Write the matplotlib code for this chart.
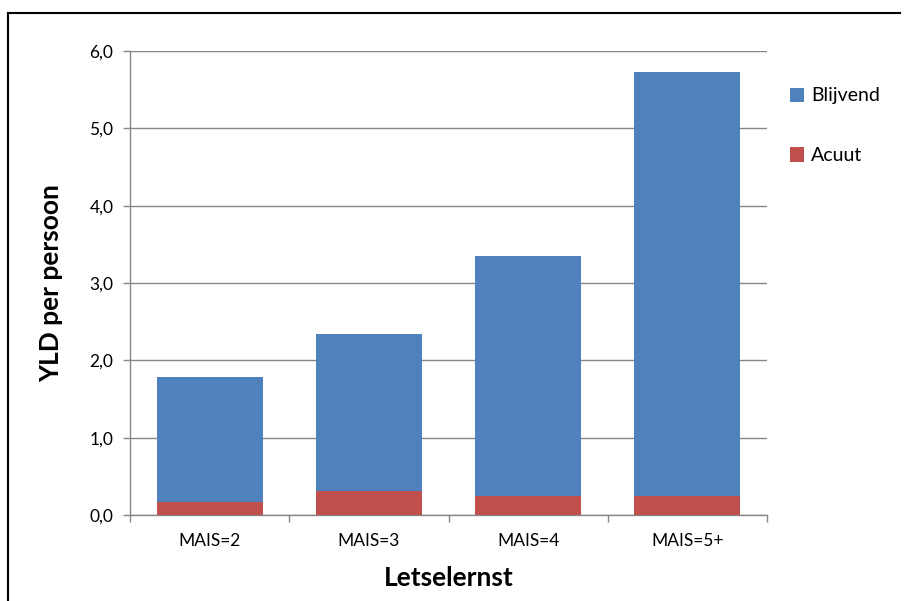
import matplotlib
matplotlib.use("Agg")
import matplotlib.pyplot as plt
from matplotlib.patches import Patch
from matplotlib.lines import Line2D
import numpy as np

plt.rcParams['font.family'] = ['Lato', 'DejaVu Sans']

categories = ["MAIS=2", "MAIS=3", "MAIS=4", "MAIS=5+"]
acuut = [0.17, 0.31, 0.24, 0.245]
blijvend = [1.61, 2.03, 3.11, 5.485]
y_ticks = [0.0, 1.0, 2.0, 3.0, 4.0, 5.0, 6.0]
y_tick_labels = ["0,0", "1,0", "2,0", "3,0", "4,0", "5,0", "6,0"]

BLUE = "#4F81BD"
RED = "#C0504D"
GRID = "#868686"

fig = plt.figure(figsize=(9.05, 6.01), dpi=100)
ax = fig.add_axes([130 / 905, 1 - 515 / 601, 637 / 905, 464 / 601])

x = np.arange(len(categories))
width = 0.665
ax.bar(x, acuut, width=width, color=RED, zorder=3, label="Acuut")
ax.bar(x, blijvend, width=width, bottom=acuut, color=BLUE, zorder=3, label="Blijvend")

ax.set_xlim(-0.5, len(categories) - 0.5)
ax.set_ylim(0, 6.0)
ax.set_yticks(y_ticks)
ax.set_yticklabels(y_tick_labels, fontsize=12.5)
ax.yaxis.grid(True, color=GRID, linewidth=1.0, zorder=0)
ax.set_axisbelow(True)

# category labels centred on bars, tick marks on category boundaries
ax.set_xticks(x)
ax.set_xticklabels(categories, fontsize=12.5)
ax.tick_params(axis='x', length=0, pad=13)
ax.set_xticks(np.arange(len(categories) + 1) - 0.5, minor=True)
ax.tick_params(axis='x', which='minor', length=5, color=GRID, width=1)
ax.tick_params(axis='y', length=5, color=GRID, width=1, pad=7)

for side in ("top", "right"):
    ax.spines[side].set_visible(False)
for side in ("left", "bottom"):
    ax.spines[side].set_color(GRID)
    ax.spines[side].set_linewidth(1.0)

ax.set_ylabel("YLD per persoon", fontsize=19, fontweight='bold', labelpad=19)
ax.set_xlabel("Letselernst", fontsize=19, fontweight='bold', labelpad=12)

handles = [Patch(facecolor=BLUE, edgecolor='none'), Patch(facecolor=RED, edgecolor='none')]
ax.legend(handles, ["Blijvend", "Acuut"], loc='upper left',
          bbox_to_anchor=(772 / 905, 1 - 70 / 601), bbox_transform=fig.transFigure,
          frameon=False, fontsize=14, handlelength=0.75, handleheight=0.75,
          handletextpad=0.35, labelspacing=2.2)

# chart frame lines (top and left)
fig.add_artist(Line2D([8 / 905, 900 / 905], [1 - 13 / 601, 1 - 13 / 601],
                      transform=fig.transFigure, color='black', linewidth=1.5))
fig.add_artist(Line2D([8 / 905, 8 / 905], [1 - 13 / 601, 0],
                      transform=fig.transFigure, color='black', linewidth=1.5))

fig.savefig("out.png", dpi=100, facecolor='white')
